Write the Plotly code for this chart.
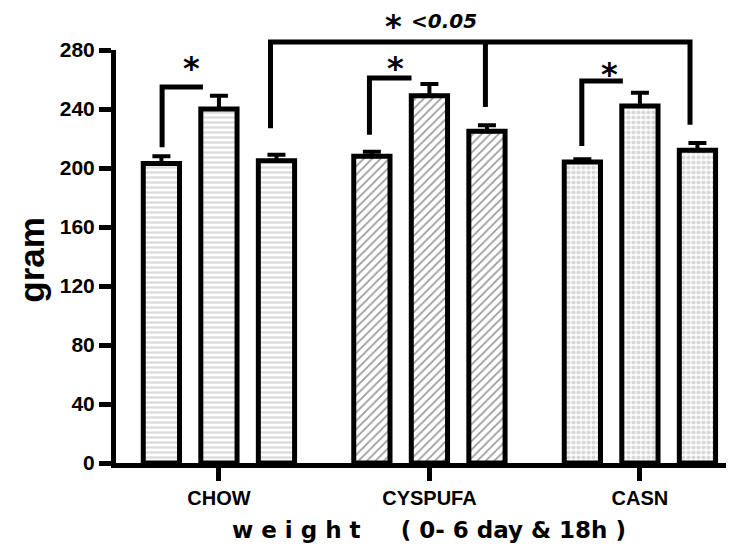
import plotly.graph_objects as go

categories = ["CHOW", "CYSPUFA", "CASN"]
series_names = ["0 day", "6 day", "18h"]
values_0day = [203, 208, 204]
values_6day = [240, 249, 242]
values_18h = [205, 225, 212]
err_0day = [5, 3, 2]
err_6day = [9, 8, 9]
err_18h = [4, 4, 5]

yticks = [0, 40, 80, 120, 160, 200, 240, 280]
YMAX = 280

pattern_shapes = ["-", "/", "."]
pattern_bg = ["#dadada", "#9c9c9c", "#d8d8d8"]
pattern_fg = ["#f7f7f7", "#ffffff", "#858585"]
pattern_size = [5, 6, 5]
pattern_solid = [0.45, 0.3, 0.55]

ARIAL = "Liberation Sans, Arial, sans-serif"
WIDE = "DejaVu Sans, Verdana, sans-serif"

xpos = list(range(len(categories)))

fig = go.Figure()
for name, vals, errs in [(series_names[0], values_0day, err_0day),
                         (series_names[1], values_6day, err_6day),
                         (series_names[2], values_18h, err_18h)]:
    fig.add_trace(go.Bar(
        x=xpos, y=vals, name=name, showlegend=False,
        marker=dict(
            color=pattern_bg,
            line=dict(color="black", width=5),
            pattern=dict(shape=pattern_shapes, bgcolor=pattern_bg, fgcolor=pattern_fg,
                         size=pattern_size, solidity=pattern_solid, fillmode="replace"),
        ),
        error_y=dict(type="data", array=errs, arrayminus=[0] * len(errs), symmetric=False,
                     color="black", thickness=4, width=9),
    ))

# the page body adds an 8px offset, so the figure is 8px smaller than the window
fig.update_layout(
    template="none",
    width=726, height=541,
    margin=dict(l=108, r=0, t=42, b=86),
    paper_bgcolor="white", plot_bgcolor="white",
    barmode="group", bargap=0.18, bargroupgap=0.37,
    xaxis=dict(
        automargin=False,
        range=[-0.489, 2.447], tickmode="array", tickvals=xpos, ticktext=categories,
        showline=True, linecolor="black", linewidth=5,
        ticks="outside", ticklen=13, tickwidth=5, tickcolor="black",
        tickfont=dict(family=ARIAL, size=20, color="black", weight="bold"),
        showgrid=False, zeroline=False,
    ),
    yaxis=dict(
        automargin=False,
        range=[0, YMAX], tickmode="array", tickvals=yticks,
        showline=True, linecolor="black", linewidth=5,
        ticks="outside", ticklen=12, tickwidth=5, tickcolor="black",
        tickfont=dict(family=ARIAL, size=21, color="black", weight="bold"),
        showgrid=False, zeroline=False,
    ),
)

def yp(v):
    return v / YMAX

LW = 5
shapes = []
def path(points):
    d = "M " + " L ".join(f"{x},{yp(y)}" for x, y in points)
    shapes.append(dict(type="path", path=d, xref="x", yref="paper",
                       line=dict(color="black", width=LW), fillcolor="rgba(0,0,0,0)"))

# small brackets per group
path([(-0.27, 214), (-0.27, 255), (-0.076, 255)])
path([(0.715, 222.5), (0.715, 261), (0.915, 261)])
path([(1.724, 215), (1.724, 259), (1.919, 259)])
# big bracket
path([(0.245, 227), (0.245, 285.4), (2.238, 285.4), (2.238, 229.3)])
path([(1.266, 285.4), (1.266, 241.4)])
fig.update_layout(shapes=shapes)

star_font = dict(family=WIDE, size=32, color="black", weight="bold")
for sx, sy in [(-0.128, 268), (0.84, 268), (1.857, 264)]:
    fig.add_annotation(x=sx, y=yp(sy), xref="x", yref="paper", text="*", showarrow=False,
                       font=star_font, xanchor="center", yanchor="middle")

fig.add_annotation(x=0.828, y=yp(296), xref="x", yref="paper", text="*", showarrow=False,
                   font=star_font, xanchor="center", yanchor="middle")
fig.add_annotation(x=0.905, y=yp(300), xref="x", yref="paper", text="<i>&lt;0.05</i>", showarrow=False,
                   font=dict(family=WIDE, size=20, color="black", weight="bold"),
                   xanchor="left", yanchor="middle")

fig.add_annotation(x=-0.138, y=0.4915, xref="paper", yref="paper", text="gram", textangle=-90,
                   showarrow=False, font=dict(family=ARIAL, size=35, color="black", weight="bold"),
                   xanchor="center", yanchor="middle")
fig.add_annotation(x=0.506, y=-0.162, xref="paper", yref="paper",
                   text="w e i g h t" + "&nbsp;" * 4 + " ( 0- 6 day &amp; 18h )",
                   showarrow=False, font=dict(family=WIDE, size=23, color="black", weight="bold"),
                   xanchor="center", yanchor="middle")

fig.write_html("out.html")
